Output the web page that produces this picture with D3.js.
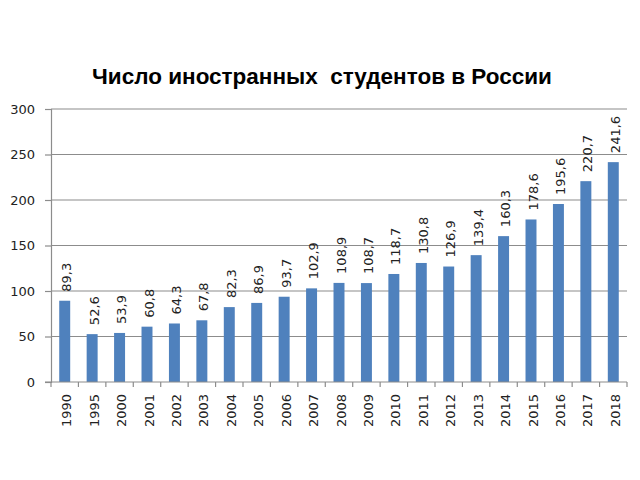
<!DOCTYPE html>
<html><head><meta charset="utf-8">
<script src="https://cdn.jsdelivr.net/npm/d3@7"></script>
<style>body{margin:0;background:#fff}</style>
</head><body>
<svg id="c" width="640" height="480"></svg>
<script>
const years = ["1990","1995","2000","2001","2002","2003","2004","2005","2006","2007","2008","2009","2010","2011","2012","2013","2014","2015","2016","2017","2018"];
const students = [89.3,52.6,53.9,60.8,64.3,67.8,82.3,86.9,93.7,102.9,108.9,108.7,118.7,130.8,126.9,139.4,160.3,178.6,195.6,220.7,241.6];
const yTicks = [0,50,100,150,200,250,300];
const title = "Число иностранных  студентов в России";

const svg = d3.select("#c");
const m = {l:51, r:627, t:109, b:382};
const x = d3.scaleBand().domain(years).range([m.l, m.r]).paddingInner(0.6).paddingOuter(0.3);
const y = d3.scaleLinear().domain([0,300]).range([m.b, m.t]);
const font = "DejaVu Sans, Verdana, sans-serif";
const gridColor = "#8c8c8c";

svg.append("text").attr("x", 322).attr("y", 84).attr("text-anchor","middle")
  .attr("font-family","Liberation Sans, Arial, sans-serif").attr("font-weight","bold")
  .attr("font-size", 22.5).attr("fill","#000").style("white-space","pre").text(title);

// gridlines
svg.append("g").selectAll("line").data(yTicks.filter(d=>d>0)).join("line")
  .attr("x1", m.l).attr("x2", m.r).attr("y1", d=>y(d)).attr("y2", d=>y(d))
  .attr("stroke",gridColor).attr("stroke-width",1.2);

// y axis
const ya = svg.append("g").attr("transform",`translate(${m.l},0)`)
  .call(d3.axisLeft(y).tickValues(yTicks).tickSize(6).tickPadding(10));
ya.select(".domain").attr("stroke",gridColor).attr("stroke-width",1.2);
ya.selectAll(".tick line").attr("stroke",gridColor).attr("stroke-width",1.2);
ya.selectAll("text").attr("font-family",font).attr("font-size",13).attr("fill","#222");

// bars
svg.append("g").selectAll("rect").data(students).join("rect")
  .attr("x",(d,i)=>x(years[i])).attr("width",x.bandwidth())
  .attr("y",d=>y(d)).attr("height",d=>y(0)-y(d)).attr("fill","#4f81bd");

// x axis
const bounds = d3.range(years.length+1).map(i=> m.l + i*(m.r-m.l)/years.length);
const xg = svg.append("g");
xg.append("line").attr("x1",m.l-6).attr("x2",m.r).attr("y1",m.b).attr("y2",m.b)
  .attr("stroke",gridColor).attr("stroke-width",1.2);
xg.selectAll("line.t").data(bounds).join("line").attr("class","t")
  .attr("x1",d=>d).attr("x2",d=>d).attr("y1",m.b).attr("y2",m.b+5)
  .attr("stroke",gridColor).attr("stroke-width",1.2);
xg.selectAll("text").data(years).join("text")
  .attr("transform",d=>`translate(${x(d)+x.bandwidth()/2+6.5},${m.b+12}) rotate(-90)`)
  .attr("text-anchor","end").attr("font-family",font).attr("font-size",13).attr("fill","#222")
  .text(d=>d);

// value labels
svg.append("g").selectAll("text").data(students).join("text")
  .attr("transform",(d,i)=>`translate(${x(years[i])+x.bandwidth()/2+6.5},${y(d)-9}) rotate(-90)`)
  .attr("text-anchor","start").attr("font-family",font).attr("font-size",13).attr("fill","#222")
  .text(d=>String(d).replace(".",","));
</script>
</body></html>
